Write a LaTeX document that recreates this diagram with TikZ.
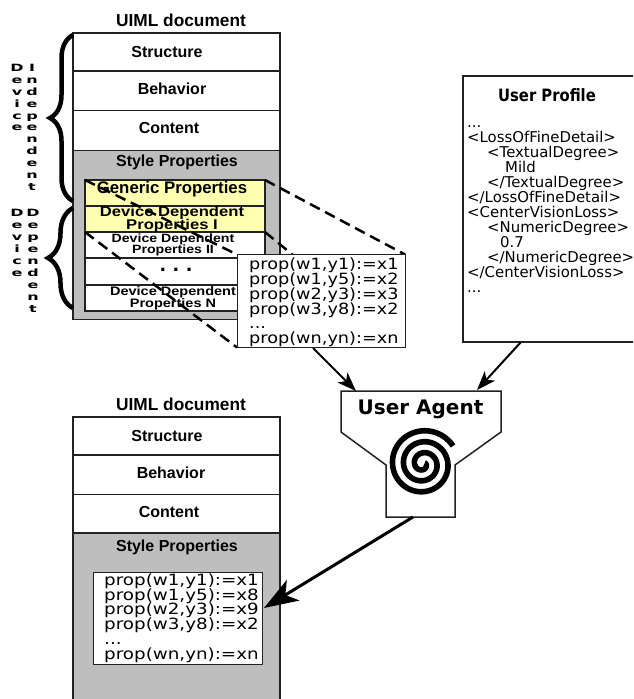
\documentclass[tikz,border=0pt]{standalone}
\usepackage{fontspec}
\usetikzlibrary{arrows.meta,decorations.pathreplacing,positioning}
\setmainfont{Liberation Sans}
\newfontfamily\dejafont{DejaVu Sans}
\newfontfamily\widefont[FakeStretch=1.18]{Liberation Sans}
\newfontfamily\propfont[FakeStretch=1.14]{DejaVu Sans}
\newfontfamily\propwidefont[FakeStretch=1.18]{DejaVu Sans}
\newfontfamily\titlefont[FakeStretch=0.87]{DejaVu Sans}
\newfontfamily\sidefont[FakeStretch=1.6]{DejaVu Sans}
\definecolor{stylegray}{HTML}{BEBEBE}
\definecolor{propyellow}{HTML}{FFFFB0}
\definecolor{inkgray}{HTML}{222222}
\pgfdeclarelayer{foreground}
\pgfsetlayers{main,foreground}
\setlength{\lineskiplimit}{-100pt}
\tikzset{%
	block/.style     = {draw=inkgray, line width=1.3pt, rectangle, fill=white, inner sep=0pt, outer sep=0pt, minimum width=207pt},
	stylebox/.style  = {block, fill=stylegray},
	inner/.style     = {block, minimum width=180pt},
	yellowbox/.style = {inner, fill=propyellow},
	propbox/.style   = {block, line width=1pt, minimum width=168pt, minimum height=93pt},
	label/.style     = {inner sep=0pt, font=\bfseries\fontsize{16}{16}\selectfont},
	proptext/.style  = {inner sep=0pt, anchor=west, align=left, font=\propfont\fontsize{15.5}{14.8}\selectfont},
	sidetext/.style  = {inner sep=0pt, anchor=north, align=center, font=\sidefont\bfseries\fontsize{10}{11.9}\selectfont},
	zoomline/.style  = {black, line width=2.5pt, dash pattern=on 11pt off 6pt},
	arrow/.style     = {black, line width=2pt, -{Stealth[length=19pt,width=14pt,inset=5pt]}},
	bigarrow/.style  = {black, line width=3pt, -{Stealth[length=34pt,width=24pt,inset=9pt]}},
	bracket/.style   = {black, line width=4.5pt, decorate},
}
\begin{document}
\begin{tikzpicture}[x=1pt,y=-1pt,node distance=39pt]
	\clip (0,0) rectangle (633,699);

	% first document
	\node [label,font=\bfseries\fontsize{17.3}{17}\selectfont] (title) at (181,20) {UIML document};
	\node [block,minimum height=38pt] (structure) at (176.5,52) {};
	\node [block,minimum height=39pt] (behavior) [below of=structure] {};
	\node [block,minimum height=40pt] (content) [below of=behavior,node distance=39.5pt] {};
	\node [stylebox,minimum height=169pt] (style) [below of=content,node distance=104.5pt] {};
	\node [label] at (167,52) {Structure};
	\node [label] at (172,89) {Behavior};
	\node [label] at (169,128) {Content};
	\node [label] at (177,162) {Style Properties};

	\node [yellowbox,minimum height=26pt] (generic) at (175,193) {};
	\node [yellowbox,minimum height=26pt] (devone) [below of=generic,node distance=26pt] {};
	\node [inner,minimum height=26pt] (devtwo) [below of=devone,node distance=26pt] {};
	\node [inner,minimum height=27pt] (devdots) [below of=devtwo,node distance=26.5pt] {};
	\node [inner,minimum height=26pt] (devn) [below of=devdots,node distance=26.5pt] {};
	\node [label,font=\bfseries\fontsize{16.8}{17}\selectfont] at (172,189) {Generic Properties};
	\node [label,align=center,font=\widefont\bfseries\fontsize{14.1}{13}\selectfont] at (172,219) {Device Dependent\\Properties I};
	\node [label,align=center,font=\widefont\bfseries\fontsize{12}{11}\selectfont] at (173,245) {Device Dependent\\Properties II};
	\node [label,font=\bfseries\fontsize{22}{22}\selectfont] at (176,270) {.\hspace{7pt}.\hspace{7pt}.};
	\node [label,align=center,font=\widefont\bfseries\fontsize{12.3}{12}\selectfont] at (173,298) {Device Dependent\\Properties N};

	% magnified part
	\begin{pgfonlayer}{foreground}
	\node [propbox] (popup) at (321,301) {};
	\node [proptext] (popuptext) at (249,302.5) {prop(w1,y1):=x1\\prop(w1,y5):=x2\\prop(w2,y3):=x3\\prop(w3,y8):=x2\\...\\prop(wn,yn):=xn};
	\end{pgfonlayer}
	\draw [zoomline] (generic.north west) -- (popup.north west);
	\draw [zoomline] (generic.north east) -- (popup.north east);
	\draw [zoomline] (devone.south west) -- (popup.south west);
	\draw [zoomline] (devone.south east) -- (popup.south east);

	% braces
	\coordinate (indeptop) at (73,35);
	\coordinate (indepbot) at (73,201);
	\coordinate (deptop) at (73,208);
	\coordinate (depbot) at (73,308);
	\draw [bracket,decoration={brace,amplitude=23pt}] (indepbot) -- (indeptop);
	\draw [bracket,decoration={brace,amplitude=25pt}] (depbot) -- (deptop);
	\node [sidetext] (devicetop) at (17,64) {D\\e\\v\\i\\c\\e};
	\node [sidetext] (independent) at (32,64) {I\\n\\d\\e\\p\\e\\n\\d\\e\\n\\t};
	\node [sidetext] (devicebot) at (17,209.5) {D\\e\\v\\i\\c\\e};
	\node [sidetext] (dependent) at (33,209.5) {D\\e\\p\\e\\n\\d\\e\\n\\t};

	% profile
	\node [block,line width=1.5pt,minimum width=175pt,minimum height=266pt] (profile) at (550.5,209) {};
	\node [inner sep=0pt,font=\titlefont\bfseries\fontsize{17}{17}\selectfont] (profiletitle) at (547,95) {User Profile};
	\node [inner sep=0pt,anchor=north west,align=left,font=\dejafont\fontsize{14.9}{15}\selectfont] (profiletext) at (467,125) {...\\
		<LossOfFineDetail>\\
		\hspace*{20pt}<TextualDegree>\\
		\hspace*{38pt}Mild\\
		\hspace*{20pt}</TextualDegree>\\
		</LossOfFineDetail>\\
		<CenterVisionLoss>\\
		\hspace*{20pt}<NumericDegree>\\
		\hspace*{33pt}0.7\\
		\hspace*{20pt}</NumericDegree>\\
		</CenterVisionLoss>\\
		...};

	% agent
	\coordinate (agentnw) at (341,391);
	\coordinate (agentne) at (501,391);
	\coordinate (agentleft) at (356,391);
	\coordinate (agentright) at (477,390);
	\coordinate (agentbot) at (413,517);
	\coordinate (propout) at (313,348);
	\coordinate (profileout) at (521,342);
	\draw [draw=inkgray,line width=1.5pt,fill=white] (agentnw) -- (agentne) -- (501,432) -- (455,465) -- (455,517) -- (386,517) -- (386,465) -- (341,432) -- cycle;
	\node [inner sep=0pt,font=\dejafont\bfseries\fontsize{20}{20}\selectfont] (agent) at (420.5,409) {User Agent};
	\draw [black,line width=5.6pt] plot [smooth,domain=0:1080,samples=180,variable=\t] ({423+(2+\t*0.0306)*cos(\t-31)},{464+(2+\t*0.0306)*sin(\t-31)});

	\draw [arrow] (propout) -- (agentleft);
	\draw [arrow] (profileout) -- (agentright);

	% second document
	\node [label,font=\bfseries\fontsize{17.3}{17}\selectfont] (titletwo) at (181,404) {UIML document};
	\node [block,minimum height=38pt] (structuretwo) at (176.5,436) {};
	\node [block,minimum height=39pt] (behaviortwo) [below of=structuretwo] {};
	\node [block,minimum height=39pt] (contenttwo) [below of=behaviortwo] {};
	\node [stylebox,minimum height=180pt] (styletwo) [below of=contenttwo,node distance=109pt] {};
	\node [label] at (167,436) {Structure};
	\node [label] at (171,473) {Behavior};
	\node [label] at (169,512) {Content};
	\node [label] at (177,547) {Style Properties};
	\node [propbox,minimum width=169pt,minimum height=92pt] (result) at (177.5,618) {};
	\node [proptext,font=\propwidefont\fontsize{15.5}{14.8}\selectfont] (resulttext) at (104,618) {prop(w1,y1):=x1\\prop(w1,y5):=x8\\prop(w2,y3):=x9\\prop(w3,y8):=x2\\...\\prop(wn,yn):=xn};
	\coordinate (resultin) at (264,608);
	\draw [bigarrow] (agentbot) -- (resultin);
\end{tikzpicture}
\end{document}
